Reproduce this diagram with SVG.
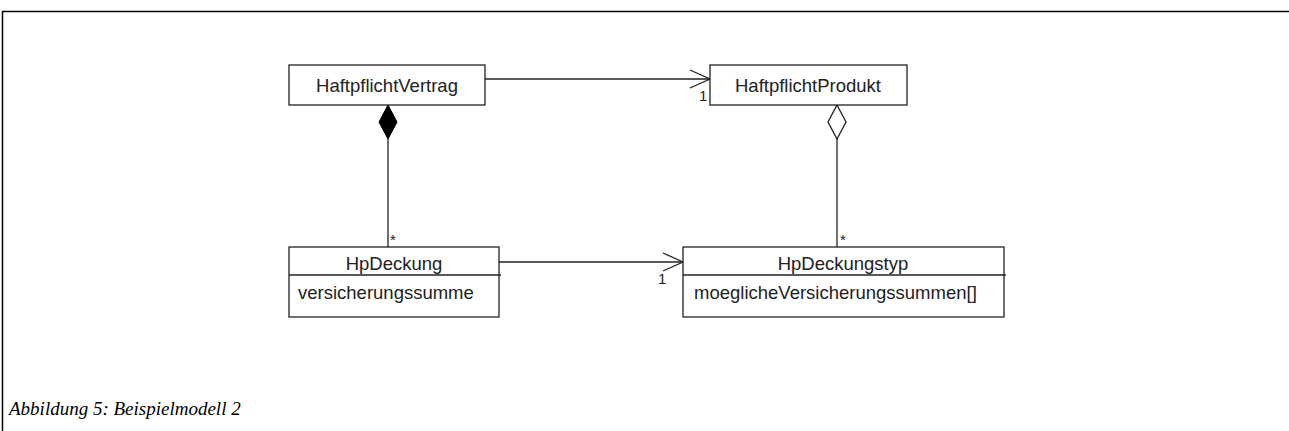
<svg xmlns="http://www.w3.org/2000/svg" width="1289" height="431" viewBox="0 0 1289 431">
<style>
.box{fill:#fff;stroke:#222;stroke-width:1.3}
.ln{fill:none;stroke:#222;stroke-width:1.3}
.t{font-family:"Liberation Sans",Arial,sans-serif;font-size:18.5px;fill:#222}
.m{font-family:"Liberation Sans",Arial,sans-serif;font-size:15px;fill:#222}
.cap{font-family:"Liberation Serif","Times New Roman",serif;font-style:italic;font-size:19px;fill:#000}
</style>
<rect width="1289" height="431" fill="#fff"/>
<path d="M2.5 431 V11.5 H1289" fill="none" stroke="#000" stroke-width="1.5"/>
<g id="connectors">
<path class="ln" d="M485 79 H710"/>
<path class="ln" d="M690 70 L710 79 L690 88"/>
<text class="m" x="699" y="101">1</text>
<path class="ln" d="M499 262 H683"/>
<path class="ln" d="M663 253 L683 262 L663 271"/>
<text class="m" x="658" y="284">1</text>
<path d="M388 105 L397 122 L388 139 L379 122 Z" fill="#000" stroke="#000" stroke-width="1"/>
<path class="ln" d="M388 139 V247"/>
<text class="m" x="390" y="245">*</text>
<path d="M837 105 L846 122 L837 139 L828 122 Z" fill="#fff" stroke="#222" stroke-width="1.3"/>
<path class="ln" d="M837 139 V247"/>
<text class="m" x="840" y="245">*</text>
</g>
<g id="HaftpflichtVertrag">
<rect class="box" x="289" y="65" width="196" height="40"/>
<text class="t" x="387" y="92" text-anchor="middle">HaftpflichtVertrag</text>
</g>
<g id="HaftpflichtProdukt">
<rect class="box" x="710" y="65" width="197" height="40"/>
<text class="t" x="808" y="92" text-anchor="middle">HaftpflichtProdukt</text>
</g>
<g id="HpDeckung">
<rect class="box" x="289" y="247" width="210" height="70"/>
<path class="ln" d="M289 275 H501"/>
<text class="t" x="394" y="270" text-anchor="middle">HpDeckung</text>
<text class="t" x="298" y="299">versicherungssumme</text>
</g>
<g id="HpDeckungstyp">
<rect class="box" x="683" y="247" width="321" height="70"/>
<path class="ln" d="M683 275 H1006"/>
<text class="t" x="843" y="270" text-anchor="middle">HpDeckungstyp</text>
<text class="t" x="694" y="299">moeglicheVersicherungssummen[]</text>
</g>
<text class="cap" x="9" y="415">Abbildung 5: Beispielmodell 2</text>
</svg>
